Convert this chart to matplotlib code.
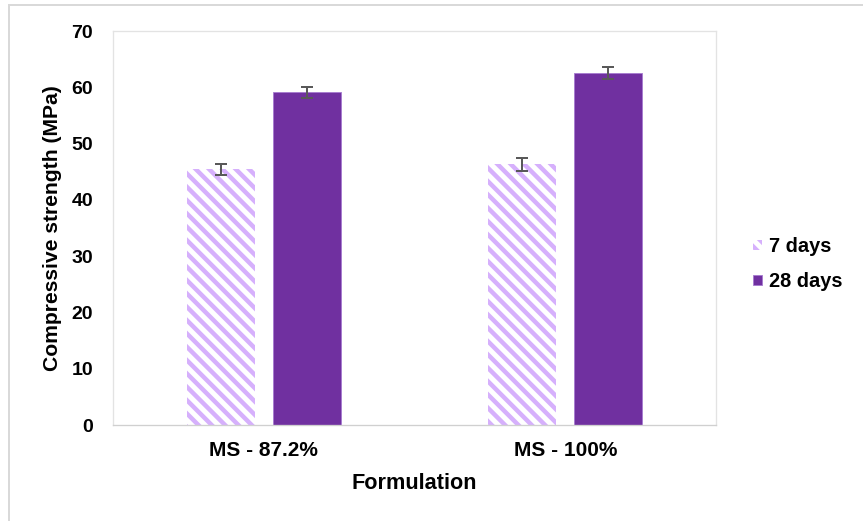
"""Compressive strength by formulation (7 vs 28 days)"""
import numpy as np
import matplotlib.pyplot as plt
from matplotlib.patches import Rectangle

plt.rcParams["font.family"] = ["Liberation Sans", "DejaVu Sans"]
plt.rcParams["font.weight"] = "bold"
plt.rcParams["hatch.linewidth"] = 4.0

formulations = ["MS - 87.2%", "MS - 100%"]
series_names = ["7 days", "28 days"]
strength_7d = [45.4, 46.3]
strength_28d = [59.1, 62.5]
err_7d = [1.0, 1.1]
err_28d = [1.0, 1.1]

DPI = 80
fig = plt.figure(figsize=(863 / DPI, 521 / DPI), dpi=DPI)
ax = fig.add_axes([113 / 863, 96 / 521, 603 / 863, 394 / 521])

x = np.arange(len(formulations))
w = 0.225
gap = 0.06
off = (w + gap) / 2

b1 = ax.bar(x - off, strength_7d, w, color="white", edgecolor="#d6b0fc",
            hatch="\\\\", linewidth=0, label=series_names[0])
b2 = ax.bar(x + off, strength_28d, w, color="#7030a0", edgecolor="#a77ccf",
            linewidth=0.8, label=series_names[1])
ax.errorbar(x - off, strength_7d, yerr=err_7d, fmt="none", ecolor="#595959",
            elinewidth=1.8, capsize=5, capthick=1.8)
ax.errorbar(x + off, strength_28d, yerr=err_28d, fmt="none", ecolor="#595959",
            elinewidth=1.8, capsize=5, capthick=1.8)

ax.set_xlim(-0.5, 1.5)
ax.set_ylim(0, 70)
ax.set_yticks(np.arange(0, 71, 10))
ax.set_xticks(x)
ax.set_xticklabels(formulations, fontsize=18.8, fontweight="bold")
ax.tick_params(axis="both", length=0, colors="black")
ax.tick_params(axis="y", pad=18, labelsize=17.5)
ax.tick_params(axis="x", pad=14)
for s in ax.spines.values():
    s.set_color("#e3e3e3")
    s.set_linewidth(1.2)
ax.spines["bottom"].set_color("#d0d0d0")

ax.set_xlabel("Formulation", fontsize=19.5, fontweight="bold", labelpad=12)
ax.set_ylabel("Compressive strength (MPa)", fontsize=19, fontweight="bold",
              labelpad=8)

fig.legend(handles=[b1, b2], labels=series_names, loc="center left",
           bbox_to_anchor=(735 / 863, 1 - 264 / 521), frameon=False,
           fontsize=18, handlelength=0.45, handleheight=0.45, handletextpad=0.35,
           labelspacing=0.8)

fig.patches.append(Rectangle((9 / 863, -0.1), 1.2, 1.1 - 5 / 521,
                             transform=fig.transFigure, fill=False,
                             edgecolor="#d9d9d9", linewidth=1.8))

fig.savefig("out.png", dpi=DPI)
